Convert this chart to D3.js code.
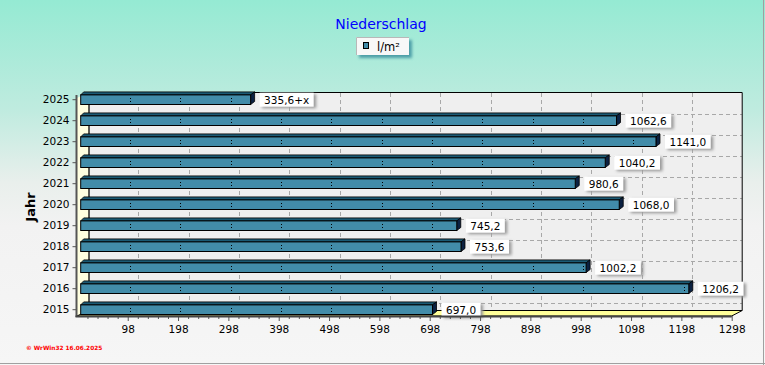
<!DOCTYPE html>
<html><head><meta charset="utf-8">
<script src="https://cdn.jsdelivr.net/npm/d3@7"></script>
<style>html,body{margin:0;padding:0;background:#fff;}svg{display:block;}</style>
</head><body>
<script>
const years = [2015, 2016, 2017, 2018, 2019, 2020, 2021, 2022, 2023, 2024, 2025];
const values = [697.0, 1206.2, 1002.2, 753.6, 745.2, 1068.0, 980.6, 1040.2, 1141.0, 1062.6, 335.6];
const valueLabels = ["697,0", "1206,2", "1002,2", "753,6", "745,2", "1068,0", "980,6", "1040,2", "1141,0", "1062,6", "335,6+x"];
const xTicks = [98, 198, 298, 398, 498, 598, 698, 798, 898, 998, 1098, 1198, 1298];
const title = "Niederschlag";
const seriesName = "l/m²";
const yTitle = "Jahr";
const footer = "© WrWin32  16.06.2025";

const W = 765, H = 365;
const svg = d3.select("body").append("svg").attr("width", W).attr("height", H);
const defs = svg.append("defs");
const bg = defs.append("linearGradient").attr("id", "bg").attr("x1", 0).attr("y1", 0).attr("x2", 0).attr("y2", 1);
[[0, "#95EAD3"], [0.3, "#BFEBDF"], [0.5, "#E9EFEC"], [0.62, "#F2F2F2"], [1, "#F6F6F6"]]
  .forEach(([o, c]) => bg.append("stop").attr("offset", o).attr("stop-color", c));
const blur = defs.append("filter").attr("id", "blur").attr("x", "-20%").attr("y", "-20%").attr("width", "140%").attr("height", "160%");
blur.append("feGaussianBlur").attr("stdDeviation", 1.4);

svg.append("rect").attr("width", W).attr("height", H).attr("fill", "url(#bg)");
svg.append("line").attr("x1", W - 1.5).attr("x2", W - 1.5).attr("y1", 0).attr("y2", H).attr("stroke", "#A0A0A0");
svg.append("line").attr("x1", 0).attr("x2", W).attr("y1", H - 1.5).attr("y2", H - 1.5).attr("stroke", "#A0A0A0");

// scales
const x = d3.scaleLinear().domain([0, 1298]).range([78.4, 731.7]);
const yDomain = years.slice().reverse();
const y = d3.scaleBand().domain(yDomain).range([89.2, 320.2]);
const cy = d => y(d) + y.bandwidth() / 2;

const DX = 10.5, DY = -5.5;           // depth of the 3D box
const backTop = 92.5, floorY = 316;
const backL = x(0) + DX, backR = x(1298) + DX, backB = floorY + DY;

// back wall
svg.append("rect").attr("x", backL).attr("y", backTop).attr("width", backR - backL).attr("height", backB - backTop)
  .attr("fill", "#EFEFEF");
// grid lines
const grid = svg.append("g").attr("stroke", "#A8A8A8").attr("stroke-dasharray", "4,3").attr("shape-rendering", "crispEdges");
grid.selectAll("line.v").data(xTicks.slice(0, -1)).join("line")
  .attr("x1", d => Math.round(x(d) + DX) + 0.5).attr("x2", d => Math.round(x(d) + DX) + 0.5)
  .attr("y1", backTop).attr("y2", backB);
grid.selectAll("line.h").data(yDomain.slice(1)).join("line")
  .attr("x1", backL).attr("x2", backR)
  .attr("y1", d => Math.round(cy(d) - 7) + 0.5).attr("y2", d => Math.round(cy(d) - 7) + 0.5);
svg.append("path").attr("d", `M${backL},${backB}V${backTop}H${backR}V${backB}`)
  .attr("fill", "none").attr("stroke", "#000").attr("stroke-width", 1);

// left wall
svg.append("path").attr("d", `M${x(0) - 1.5},${backTop - DY}L${backL},${backTop}L${backL},${backB}L${x(0) - 1.5},${floorY}Z`)
  .attr("fill", "#FFFFE0");
svg.append("line").attr("x1", backL).attr("x2", backL).attr("y1", backTop).attr("y2", backB).attr("stroke", "#000");
// floor
svg.append("path").attr("d", `M${x(0) - 1.5},${floorY}L${x(1298)},${floorY}L${backR},${backB}L${backL},${backB}Z`)
  .attr("fill", "#FFFF99").attr("stroke", "#000").attr("stroke-width", 1);

// bars
const data = years.map((yr, i) => ({ yr, v: values[i], lab: valueLabels[i] }));
const BH = 9.6, BD = 4, BU = 3;
const bars = svg.append("g");
data.forEach(d => {
  const c = cy(d.yr), x0 = x(0) + 2.3, x1 = x(d.v) + 3.3;
  const g = bars.append("g");
  g.append("path").attr("d", `M${x0},${c - BH / 2}L${x0 + BU},${c - BH / 2 - BU}L${x1 + BD},${c - BH / 2 - BU}L${x1},${c - BH / 2}Z`)
    .attr("fill", "#1B5A74").attr("stroke", "#000").attr("stroke-width", 0.8);
  g.append("path").attr("d", `M${x1},${c - BH / 2}L${x1 + BD},${c - BH / 2 - BU}L${x1 + BD},${c + BH / 2 - BU}L${x1},${c + BH / 2}Z`)
    .attr("fill", "#0B2142").attr("stroke", "#000").attr("stroke-width", 0.8);
  g.append("rect").attr("x", x0).attr("y", c - BH / 2).attr("width", x1 - x0).attr("height", BH)
    .attr("fill", "#428CA9").attr("stroke", "#000").attr("stroke-width", 1);
  xTicks.filter(t => t < d.v).forEach(t => {
    const px = Math.round(x(t) + 2.3);
    g.append("rect").attr("x", px).attr("y", Math.round(c) - 2).attr("width", 1).attr("height", 1).attr("fill", "#000");
    g.append("rect").attr("x", px).attr("y", Math.round(c) + 1).attr("width", 1).attr("height", 1).attr("fill", "#000");
  });
  // value label
  const tx = x1 + BD + 5;
  const t = g.append("text").attr("x", tx + 4.5).attr("y", c + 4)
    .attr("font-family", "DejaVu Sans").attr("font-size", 10.5).attr("fill", "#000").text(d.lab);
  const tw = t.node().getComputedTextLength();
  g.insert("rect", "text").attr("x", tx + 2.5).attr("y", c - 5.5).attr("width", tw + 9).attr("height", 14)
    .attr("fill", "#9A9A9A").attr("filter", "url(#blur)");
  g.insert("rect", "text").attr("x", tx).attr("y", c - 7).attr("width", tw + 9).attr("height", 14)
    .attr("fill", "#FFFFFF");
});

// axes
const axB = svg.append("g").attr("transform", `translate(0,${floorY})`)
  .call(d3.axisBottom(x).tickValues(xTicks).tickSize(5).tickPadding(5).tickFormat(d3.format("d")));
axB.select(".domain").remove();
axB.selectAll("line").attr("stroke", "#555");
axB.selectAll("text").attr("font-family", "DejaVu Sans").attr("font-size", 10.5).attr("fill", "#000");
const minor = d3.range(18, 1298, 20).filter(v => !xTicks.includes(v));
const axM = svg.append("g").attr("transform", `translate(0,${floorY})`)
  .call(d3.axisBottom(x).tickValues(minor).tickSize(3).tickFormat(""));
axM.select(".domain").remove();
axM.selectAll("line").attr("stroke", "#555");

const axL = svg.append("g").attr("transform", `translate(76.5,0)`)
  .call(d3.axisLeft(y).tickSize(4).tickPadding(3));
axL.select(".domain").remove();
axL.selectAll("line").attr("stroke", "#555");
axL.selectAll("text").attr("font-family", "DejaVu Sans").attr("font-size", 10.5).attr("fill", "#000");

svg.append("line").attr("x1", 76.5).attr("x2", 76.5).attr("y1", 95).attr("y2", floorY + 1)
  .attr("stroke", "#555").attr("stroke-width", 2);
svg.append("line").attr("x1", 75.5).attr("x2", x(1298)).attr("y1", floorY + 0.5).attr("y2", floorY + 0.5)
  .attr("stroke", "#444").attr("stroke-width", 2);

// title
svg.append("text").attr("x", 381).attr("y", 29).attr("text-anchor", "middle")
  .attr("font-family", "DejaVu Sans").attr("font-size", 14).attr("fill", "#0000FF").text(title);

// legend
const lg = svg.append("g");
lg.append("rect").attr("x", 359).attr("y", 40).attr("width", 53).attr("height", 18).attr("fill", "#4E9FA8").attr("filter", "url(#blur)");
lg.append("rect").attr("x", 356).attr("y", 37).attr("width", 53).attr("height", 18).attr("fill", "#F8F8F8");
lg.append("path").attr("d", "M356.5,55V37.5H409").attr("fill", "none").attr("stroke", "#B8B8B8");
lg.append("rect").attr("x", 363.5).attr("y", 42.5).attr("width", 5).attr("height", 6).attr("fill", "#428CA9").attr("stroke", "#000");
lg.append("text").attr("x", 377).attr("y", 51).attr("font-family", "DejaVu Sans").attr("font-size", 11.5).attr("fill", "#000").text(seriesName);

// y title
svg.append("text").attr("transform", "translate(35,207) rotate(-90)").attr("text-anchor", "middle")
  .attr("font-family", "DejaVu Sans").attr("font-weight", "bold").attr("font-size", 13).attr("fill", "#000").text(yTitle);

// footer
svg.append("text").attr("x", 26).attr("y", 349.5).attr("font-family", "DejaVu Sans").attr("font-weight", "bold")
  .attr("font-size", 5.8).attr("fill", "#FF0000").text(footer);
</script>
</body></html>
